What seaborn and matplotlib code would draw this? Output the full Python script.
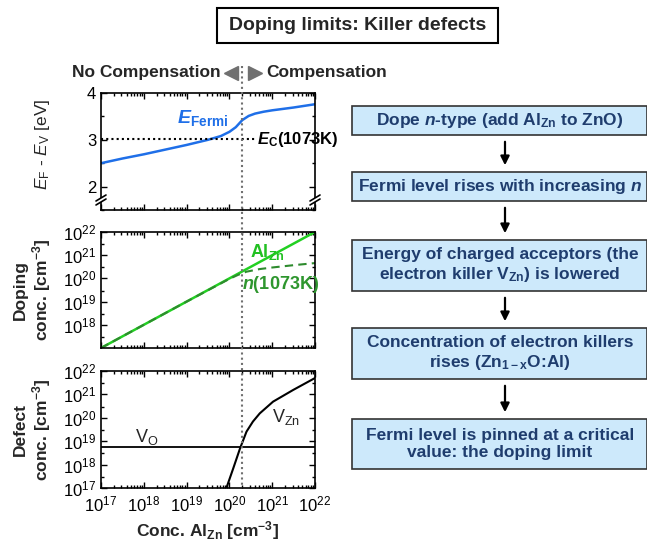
import numpy as np
import matplotlib.pyplot as plt
import seaborn as sns
from matplotlib.lines import Line2D
from matplotlib.patches import Rectangle, Polygon, FancyArrowPatch
from matplotlib.ticker import LogLocator, NullFormatter, MultipleLocator

# Fermi level (eV above VBM) vs log10 Al_Zn concentration
ef_logx = [17, 17.5, 18, 18.5, 19, 19.5, 19.8, 20.0, 20.15, 20.3, 20.45, 20.6, 20.8, 21.0, 21.5, 22]
ef_val = [2.50, 2.60, 2.69, 2.79, 2.89, 3.00, 3.08, 3.17, 3.27, 3.42, 3.51, 3.56, 3.60, 3.63, 3.69, 3.76]
ec_logx = [17, 20.6]
ec_val = [3.02, 3.02]

# doping concentrations
al_logx = [17, 22]
al_logy = [17, 22]
n_logx = [17, 19, 20, 20.2, 20.4, 20.7, 21, 21.5, 22]
n_logy = [17, 19, 19.98, 20.15, 20.29, 20.40, 20.47, 20.57, 20.66]

# defect concentrations
vo_logx = [17, 22]
vo_logy = [18.75, 18.75]
vzn_logx = [19.93, 20.09, 20.25, 20.40, 20.55, 20.71, 21.02, 21.49, 22]
vzn_logy = [17.0, 17.84, 18.70, 19.41, 19.84, 20.19, 20.69, 21.19, 21.70]

steps = [
    r"Dope $\mathbfit{n}$-type (add Al$_\mathbf{Zn}$ to ZnO)",
    r"Fermi level rises with increasing $\mathbfit{n}$",
    "Energy of charged acceptors (the\n" + r"electron killer V$_\mathbf{Zn}$) is lowered",
    "Concentration of electron killers\n" + r"rises (Zn$_\mathbf{1-x}$O:Al)",
    "Fermi level is pinned at a critical\nvalue: the doping limit",
]
step_top = [106, 172, 240, 328, 419]
step_bot = [135, 201, 291, 379, 469]


def p10(v):
    return 10.0 ** np.asarray(v, dtype=float)


sns.set_style("ticks")
plt.rcParams['font.family'] = ['Liberation Sans', 'DejaVu Sans']
plt.rcParams['mathtext.fontset'] = 'custom'
plt.rcParams['mathtext.rm'] = 'Liberation Sans'
plt.rcParams['mathtext.it'] = 'Liberation Sans:italic'
plt.rcParams['mathtext.bf'] = 'Liberation Sans:bold'
plt.rcParams['mathtext.bfit'] = 'Liberation Sans:bold:italic'

W, H = 647, 543
def fx(x):
    return x / W
def fy(y):
    return 1 - y / H

fig = plt.figure(figsize=(6.47, 5.43), dpi=100)

def make_ax(top, bot):
    ax = fig.add_axes([fx(101), fy(bot), fx(315) - fx(101), fy(top) - fy(bot)])
    for s in ax.spines.values():
        s.set_linewidth(1.2)
        s.set_color('black')
        s.set_visible(True)
    ax.set_xscale('log')
    ax.set_xlim(1e17, 1e22)
    ax.xaxis.set_major_locator(LogLocator(base=10, numticks=10))
    ax.xaxis.set_minor_locator(LogLocator(base=10, subs=np.arange(2, 10), numticks=20))
    ax.xaxis.set_minor_formatter(NullFormatter())
    ax.tick_params(which='both', direction='in', top=True, right=True, colors='black',
                   labelsize=12, width=1)
    ax.tick_params(which='major', length=4.5)
    ax.tick_params(which='minor', length=2.5)
    return ax

# top panel: Fermi level
ax1 = make_ax(93, 210)
sns.lineplot(x=p10(ef_logx), y=ef_val, ax=ax1, color='#1f6fe8', linewidth=1.8)
sns.lineplot(x=p10(ec_logx), y=ec_val, ax=ax1, color='black', linewidth=1.5,
             linestyle=(0, (1, 1.5)))
ax1.set_ylim(1.5, 4)
ax1.set_yticks([2, 3, 4])
ax1.yaxis.set_minor_locator(MultipleLocator(0.5))
ax1.tick_params(axis='x', labelbottom=False)
ax1.text(10 ** 18.78, 3.47, r"$\mathbfit{E}_\mathbf{Fermi}$", color='#1f6fe8', fontsize=14,
         va='center', ha='left')
ax1.text(10 ** 20.64, 3.0, r"$\mathbfit{E}_\mathbf{C}$(1073K)", color='black', fontsize=12,
         fontweight='bold', va='center', ha='left')

# axis break marks on the top panel
for xb in (101, 315):
    yb = 202
    mask = Polygon([(fx(xb - 5), fy(yb - 1)), (fx(xb + 5), fy(yb - 7)),
                    (fx(xb + 5), fy(yb - 3)), (fx(xb - 5), fy(yb + 3))],
                   closed=True, transform=fig.transFigure, facecolor='white',
                   edgecolor='none', zorder=10)
    fig.add_artist(mask)
    for dy in (-1, 3):
        fig.add_artist(Line2D([fx(xb - 5), fx(xb + 5)], [fy(yb + dy), fy(yb + dy - 6)],
                              transform=fig.transFigure, color='black', lw=1.2, zorder=11))

# middle panel: doping
ax2 = make_ax(232, 348)
sns.lineplot(x=p10(al_logx), y=p10(al_logy), ax=ax2, color='#22d022', linewidth=1.8)
sns.lineplot(x=p10(n_logx), y=p10(n_logy), ax=ax2, color='#2e8b2e', linewidth=1.5,
             linestyle=(0, (4, 2.5)))
ax2.set_yscale('log')
ax2.set_ylim(1e17, 1e22)
ax2.set_yticks([1e18, 1e19, 1e20, 1e21, 1e22])
ax2.yaxis.set_minor_locator(LogLocator(base=10, subs=[3.0], numticks=20))
ax2.yaxis.set_minor_formatter(NullFormatter())
ax2.tick_params(axis='x', labelbottom=False)
ax2.text(10 ** 20.48, 10 ** 21.14, r"Al$_\mathbf{Zn}$", color='#22c022', fontsize=13,
         fontweight='bold', va='center', ha='left')
ax2.text(10 ** 20.29, 10 ** 19.73, r"$\mathbfit{n}$(1073K)", color='#2e962e', fontsize=13,
         fontweight='bold', va='center', ha='left')

# bottom panel: defects
ax3 = make_ax(371, 488)
sns.lineplot(x=p10(vo_logx), y=p10(vo_logy), ax=ax3, color='black', linewidth=1.3)
sns.lineplot(x=p10(vzn_logx), y=p10(vzn_logy), ax=ax3, color='black', linewidth=1.5)
ax3.set_yscale('log')
ax3.set_ylim(1e17, 1e22)
ax3.set_yticks([1e17, 1e18, 1e19, 1e20, 1e21, 1e22])
ax3.yaxis.set_minor_locator(LogLocator(base=10, subs=[3.0], numticks=20))
ax3.yaxis.set_minor_formatter(NullFormatter())
ax3.set_xticks([1e17, 1e18, 1e19, 1e20, 1e21, 1e22])
ax3.tick_params(axis='x', pad=5)
ax3.text(10 ** 17.8, 10 ** 19.18, r"V$_\mathregular{O}$", fontsize=13, va='center', ha='left')
ax3.text(10 ** 21.0, 10 ** 20.03, r"V$_\mathregular{Zn}$", fontsize=13, va='center', ha='left')

# axis labels
fig.text(fx(42), fy(144), r"$E_\mathrm{F}$ - $E_\mathrm{V}$ [eV]", rotation=90,
         ha='center', va='center', fontsize=12.5)
fig.text(fx(33), fy(290), "Doping\n" + r"conc. [cm$^\mathbf{-3}$]", rotation=90,
         ha='center', va='center', fontsize=12.5, fontweight='bold', linespacing=1.1)
fig.text(fx(33), fy(430), "Defect\n" + r"conc. [cm$^\mathbf{-3}$]", rotation=90,
         ha='center', va='center', fontsize=12.5, fontweight='bold', linespacing=1.1)
fig.text(fx(208), fy(531), r"Conc. Al$_\mathbf{Zn}$ [cm$^\mathbf{-3}$]", ha='center',
         va='center', fontsize=12.5, fontweight='bold')

# compensation header and separator
fig.text(fx(221), fy(73), "No Compensation", ha='right', va='center', fontsize=12.5,
         fontweight='bold')
fig.text(fx(266), fy(73), "Compensation", ha='left', va='center', fontsize=12.5,
         fontweight='bold')
fig.add_artist(Line2D([fx(231)], [fy(73)], marker='<', markersize=10, color='#707070',
                      transform=fig.transFigure, linestyle='none'))
fig.add_artist(Line2D([fx(255)], [fy(73)], marker='>', markersize=10, color='#707070',
                      transform=fig.transFigure, linestyle='none'))
fig.add_artist(Line2D([fx(242), fx(242)], [fy(66), fy(488)], transform=fig.transFigure,
                      color='#707070', lw=1.5, linestyle=(0, (1, 1.5)), zorder=5))

# title box
fig.add_artist(Rectangle((fx(217), fy(43)), fx(498) - fx(217), fy(8) - fy(43),
                         transform=fig.transFigure, facecolor='white', edgecolor='black',
                         lw=1.5))
fig.text(fx(357.5), fy(25.5), "Doping limits: Killer defects", ha='center', va='center',
         fontsize=14, fontweight='bold')

# flow chart on the right
for i, txt in enumerate(steps):
    t, b = step_top[i], step_bot[i]
    fig.add_artist(Rectangle((fx(352), fy(b)), fx(647) - fx(352), fy(t) - fy(b),
                             transform=fig.transFigure, facecolor='#cde9fb',
                             edgecolor='#333333', lw=1.2))
    fig.text(fx(500), fy((t + b) / 2), txt, ha='center', va='center', fontsize=12.5,
             fontweight='bold', color='#1f3d6e', linespacing=1.2)
    if i < len(steps) - 1:
        fig.add_artist(FancyArrowPatch((fx(505), fy(b + 4)), (fx(505), fy(step_top[i + 1] - 4)),
                                       transform=fig.transFigure, arrowstyle='-|>',
                                       mutation_scale=13, color='black', lw=1.6))

plt.savefig('out.png', dpi=100)
